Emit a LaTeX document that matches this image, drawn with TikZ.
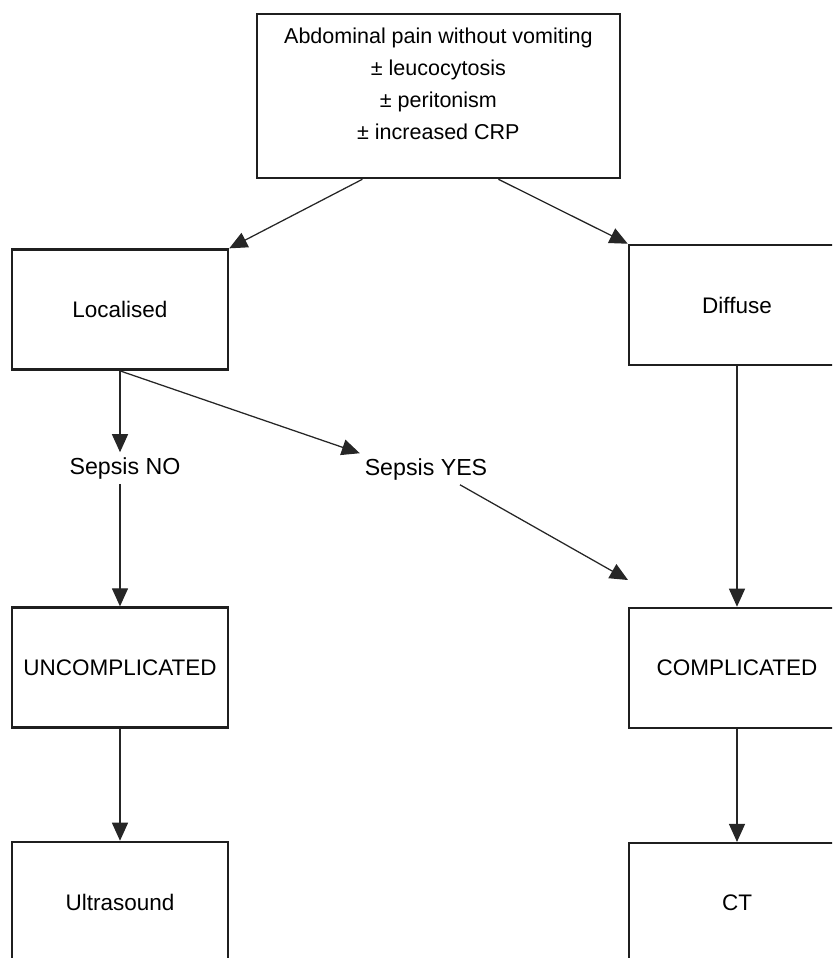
\documentclass[tikz,border=0pt]{standalone}
\usepackage{fontspec}
\setmainfont{Liberation Sans}
\usetikzlibrary{arrows.meta}

\begin{document}
\begin{tikzpicture}[>={Triangle[length=4.5mm,width=4mm]},
  box/.style={draw=black!88,line width=1.8pt,minimum width=5.4cm,minimum height=3cm,font=\fontsize{16}{19}\selectfont},
  lbl/.style={font=\fontsize{16.5}{20}\selectfont},
  conn/.style={->,line width=0.9pt,draw=black!85}]
\clip (0,0) rectangle (20.8,-23.95);
\node[draw=black!88,line width=1.8pt,minimum width=9.075cm,minimum height=4.1cm,align=center,font=\fontsize{15.3}{22.7}\selectfont] (pain) at (10.96,-2.4) {Abdominal pain without vomiting\\ ± leucocytosis\\ ± peritonism\\ ± increased CRP\\[-0.17cm]\mbox{}};
\node[box] (loc) at (3.0,-7.74) {Localised};
\node[box] (diff) at (18.425,-7.625) {Diffuse};
\node[lbl] (sepno) at (3.125,-11.7) {Sepsis NO};
\node[lbl] (sepyes) at (10.65,-11.725) {Sepsis YES};
\coordinate (yesend) at (15.7,-14.5);
\node[box] (uncomp) at (3.0,-16.69) {UNCOMPLICATED};
\node[box] (comp) at (18.425,-16.7) {COMPLICATED};
\node[box] (us) at (3.0,-22.55) {Ultrasound};
\node[box] (ct) at (18.425,-22.58) {CT};
\draw[conn] ([xshift=-1.9cm]pain.south) -- (loc.north east);
\draw[conn] ([xshift=1.5cm]pain.south) -- (diff.north west);
\draw[conn] (loc.south) -- (loc.south |- sepno.north);
\draw[conn] (loc.south) -- (sepyes.north west);
\draw[conn] ([xshift=0.85cm]sepyes.south) -- (yesend);
\draw[conn] (uncomp.north |- sepno.south) -- (uncomp.north);
\draw[conn] (diff.south) -- (comp.north);
\draw[conn] (uncomp.south) -- (us.north);
\draw[conn] (comp.south) -- (ct.north);
\end{tikzpicture}
\end{document}
